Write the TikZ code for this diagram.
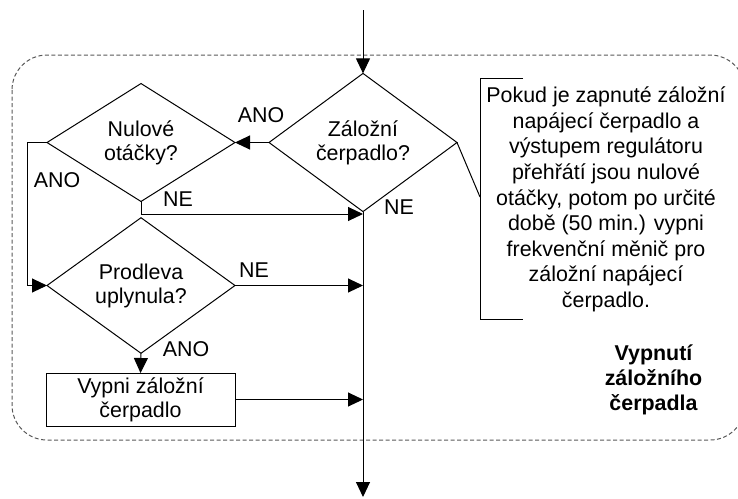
\documentclass[tikz,border=0pt]{standalone}
\usepackage{fontspec}
\setmainfont{Liberation Sans}
\usetikzlibrary{shapes.geometric,arrows.meta}
\begin{document}
\begin{tikzpicture}[x=1pt,y=-1pt,
  line width=1pt,
  every node/.style={font=\fontsize{21.4}{24}\selectfont},
  decision/.style={draw, diamond, align=center, inner sep=0pt, outer sep=0pt,
    minimum width=188pt, minimum height=113pt},
  process/.style={draw, rectangle, align=center, inner sep=0pt, outer sep=0pt,
    minimum width=189pt, minimum height=53pt},
  flow/.style={-{Triangle[length=15pt,width=14pt]}},
  frame/.style={draw=black!65, dash pattern=on 4pt off 2.5pt, rounded corners=35pt},
  note/.style={align=center, font=\fontsize{21.4}{25.6}\selectfont},
  title/.style={align=center, font=\fontsize{21.4}{25}\selectfont\bfseries},
  lbl/.style={inner sep=0pt}
]
\clip (0,0) rectangle (738,498);

% group frame
\draw[frame] (12,55) rectangle (745,440);

% flowchart blocks
\node[decision] (zal)  at (363,142.5) {Záložní\\čerpadlo?};
\node[decision] (nul)  at (141,142.5) {Nulové\\otáčky?};
\node[decision] (prod) at (141,285.5) {Prodleva\\uplynula?};
\node[process]  (vyp)  at (140.5,399.5) {Vypni záložní\\čerpadlo};

% main line in and out
\coordinate (in)  at (363,10);
\coordinate (out) at (363,497);
\coordinate (j1)  at (363,214);

\draw[flow] (in) -- (zal.north);
\draw[flow] (zal.south) -- (out);
\draw[flow] (zal.west) -- (nul.east);
\draw[flow] (nul.south) |- (j1);
\draw[flow] (nul.west) -- ++(-20,0) |- (prod.west);
\draw[flow] (prod.east) -- (prod.east -| zal.south);
\draw[flow] (prod.south) -- (vyp.north);
\draw[flow] (vyp.east) -- (vyp.east -| zal.south);

% branch labels
\node[lbl] (a1) at (261,115) {ANO};
\node[lbl] (a2) at (57,180)  {ANO};
\node[lbl] (a3) at (186,349) {ANO};
\node[lbl] (n1) at (178,199) {NE};
\node[lbl] (n2) at (399,207) {NE};
\node[lbl] (n3) at (254,270) {NE};

% annotation with bracket
\node[note] (pozn) at (606,199.5) {Pokud je zapnuté záložní\\napájecí čerpadlo a\\výstupem regulátoru\\přehřátí jsou nulové\\otáčky, potom po určité\\době (50 min.) vypni\\frekvenční měnič pro\\záložní napájecí\\čerpadlo.};
\coordinate (bt) at (480,78);
\coordinate (bb) at (480,319);
\coordinate (bk) at (480,197);
\draw (bt) ++(43,0) -- (bt) -- (bb) -- ++(43,0);
\draw (zal.east) -- (bk);

% group title
\node[title] (nazev) at (653.5,380) {Vypnutí\\záložního\\čerpadla};
\end{tikzpicture}
\end{document}
